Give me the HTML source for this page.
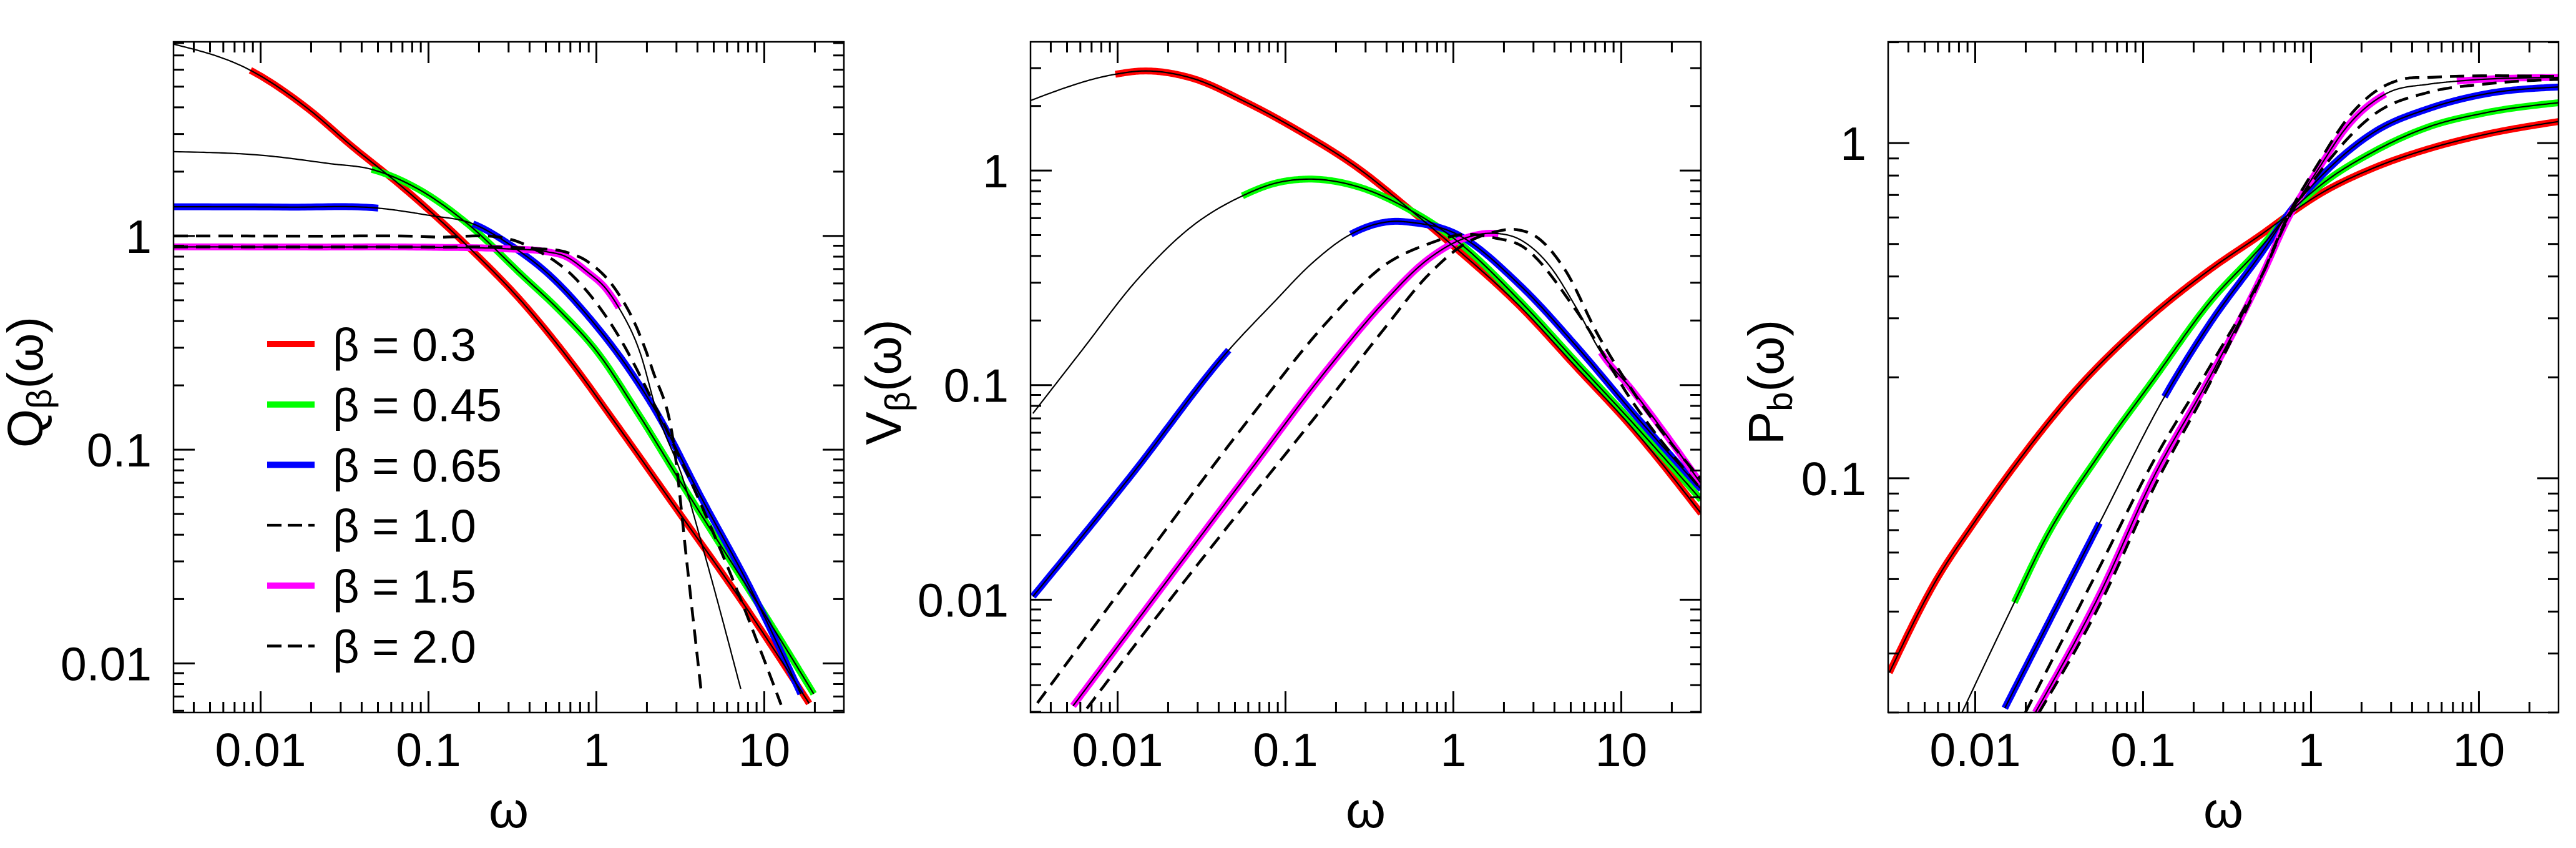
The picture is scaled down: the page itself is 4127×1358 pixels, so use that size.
<!DOCTYPE html>
<html><head><meta charset="utf-8"><style>
html,body{margin:0;padding:0;background:#fff;}
svg{display:block;}
text{font-family:"Liberation Sans",Arial,sans-serif;fill:#000;}
</style></head><body>
<svg id="fig" width="4127" height="1358" viewBox="0 0 4127 1358" xmlns="http://www.w3.org/2000/svg">
<rect width="4127" height="1358" fill="#fff"/>
</svg>
<script>
// ---------- data ----------
const xTickVals = [0.01,0.1,1,10];
const xTickLabels = ["0.01","0.1","1","10"];
const yTickVals1 = [0.01,0.1,1];
const yTickLabels1 = ["0.01","0.1","1"];
const yTickVals2 = [0.01,0.1,1];
const yTickLabels2 = ["0.01","0.1","1"];
const yTickVals3 = [0.1,1];
const yTickLabels3 = ["0.1","1"];
const legendLabels = ["β = 0.3","β = 0.45","β = 0.65","β = 1.0","β = 1.5","β = 2.0"];

// Panel 1: Q
const q_w03 = [0.00303,0.0087,0.019,0.035,0.069,0.17,0.362,0.7,1.33,3.27,6.89,18.5];
const q_v03 = [7.9,5.96,3.96,2.63,1.71,0.90,0.49,0.26,0.13,0.048,0.021,0.0065];
const q_w045 = [0.00303,0.0105,0.0259,0.0459,0.0866,0.171,0.362,0.6,1.0,1.80,3.27,6.89,10.8,19.7];
const q_v045 = [2.48,2.38,2.18,2.05,1.66,1.14,0.654,0.45,0.290,0.145,0.068,0.027,0.0155,0.0072];
const q_w065 = [0.00303,0.015,0.0502,0.1,0.184,0.312,0.528,0.873,1.64,2.22,4.40,8.02,16.5];
const q_v065 = [1.37,1.365,1.35,1.25,1.14,0.90,0.654,0.43,0.225,0.155,0.056,0.0235,0.0072];
const q_w10 = [0.00303,0.02,0.105,0.375,0.757,1.33,2.22,5.97,12.6];
const q_v10 = [1.0,0.998,0.99,0.912,0.628,0.349,0.162,0.029,0.0064];
const q_w15 = [0.00303,0.02,0.1,0.3,0.5,0.66,0.873,1.15,1.36,1.83,2.28,3.27,4.40,7.24];
const q_v15 = [0.889,0.888,0.886,0.87,0.845,0.80,0.684,0.562,0.462,0.281,0.152,0.0735,0.0327,0.0076];
const q_w20 = [0.00303,0.02,0.105,0.4,0.66,0.873,1.30,1.72,2.16,2.90,3.47,4.22];
const q_v20 = [0.889,0.888,0.887,0.875,0.84,0.765,0.562,0.38,0.236,0.104,0.029,0.00726];

// Panel 2: V
const v_w03 = [0.00303,0.0097,0.0139,0.0275,0.0584,0.124,0.264,0.561,0.995,2.54,5.40,11.5,29.9];
const v_v03 = [2.12,2.81,2.91,2.70,2.08,1.51,1.04,0.65,0.446,0.229,0.121,0.0638,0.0252];
const v_w045 = [0.00313,0.00608,0.0129,0.0275,0.0554,0.0851,0.134,0.264,0.561,0.995,2.54,5.40,11.5,29.9];
const v_v045 = [0.0738,0.144,0.306,0.547,0.762,0.869,0.912,0.845,0.65,0.486,0.243,0.128,0.0677,0.0292];
const v_w065 = [0.00313,0.012,0.0459,0.0851,0.144,0.245,0.448,0.561,0.995,2.54,5.40,11.5,29.9];
const v_v065 = [0.01035,0.0378,0.1455,0.243,0.37,0.505,0.58,0.573,0.515,0.288,0.152,0.0758,0.0327];
const v_w10 = [0.00333,0.0129,0.0584,0.181,0.385,0.703,1.19,1.74,2.54,5.40,11.5,29.9];
const v_v10 = [0.0033,0.0138,0.0669,0.201,0.360,0.454,0.505,0.486,0.446,0.222,0.085,0.0327];
const v_w15 = [0.00543,0.0129,0.0584,0.181,0.385,0.703,1.19,1.74,2.54,3.70,5.40,7.58,11.5,29.9];
const v_v15 = [0.0032,0.00788,0.0378,0.121,0.243,0.385,0.486,0.51,0.473,0.364,0.229,0.142,0.0957,0.0347];
const v_w20 = [0.00656,0.0129,0.0584,0.181,0.385,0.703,1.19,1.74,2.35,3.18,4.63,7.28,11.5,29.9];
const v_v20 = [0.00311,0.00625,0.0282,0.0853,0.182,0.324,0.459,0.516,0.531,0.486,0.344,0.171,0.0957,0.0363];

// Panel 3: P
const p_w03 = [0.00308,0.00573,0.01,0.0177,0.0377,0.1,0.248,0.528,0.714,1.12,2.39,5.08,10.8,29.9];
const p_v03 = [0.0263,0.0487,0.0745,0.111,0.178,0.29,0.418,0.542,0.605,0.703,0.845,0.963,1.06,1.16];
const p_w045 = [0.00834,0.0171,0.0259,0.055,0.117,0.248,0.528,0.714,1.12,2.39,5.08,10.8,29.9];
const p_v045 = [0.02,0.0426,0.0653,0.118,0.199,0.334,0.503,0.605,0.743,0.946,1.12,1.23,1.32];
const p_w065 = [0.015,0.055,0.134,0.248,0.528,0.714,1.12,2.39,5.08,10.8,29.9];
const p_v065 = [0.0206,0.0735,0.175,0.288,0.484,0.605,0.786,1.08,1.27,1.40,1.47];
const p_w10 = [0.0199,0.055,0.117,0.248,0.528,0.714,1.12,2.39,5.08,10.8,29.9];
const p_v10 = [0.02,0.0543,0.114,0.214,0.418,0.583,0.815,1.22,1.42,1.50,1.55];
const p_w15 = [0.0228,0.055,0.117,0.248,0.528,0.714,1.12,1.64,2.77,5.08,7.39,29.9];
const p_v15 = [0.02,0.045,0.102,0.199,0.418,0.583,0.845,1.12,1.40,1.50,1.53,1.57];
const p_w20 = [0.024,0.055,0.117,0.248,0.528,0.714,1.12,1.64,2.39,3.48,5.08,29.9];
const p_v20 = [0.02,0.0418,0.0946,0.191,0.418,0.594,0.879,1.18,1.42,1.55,1.57,1.58];

// colored (thick) ranges in omega
const q_rng = {r:[[0.0087,18.5]], g:[[0.0459,19.7]], b:[[0.00303,0.0502],[0.184,16.5]], m:[[0.00303,1.36]]};
const v_rng = {r:[[0.0097,29.9]], g:[[0.0554,29.9]], b:[[0.00313,0.0459],[0.245,29.9]], m:[[0.00543,1.87],[7.58,29.9]]};
const p_rng = {r:[[0.00308,29.9]], g:[[0.0171,29.9]], b:[[0.015,0.055],[0.134,29.9]], m:[[0.0228,2.77],[7.39,29.9]]};

// ---------- drawing ----------
const NS = "http://www.w3.org/2000/svg";
const svg = document.getElementById('fig');
function mk(tag, attrs, parent){ const e=document.createElementNS(NS,tag); for(const k in attrs) e.setAttribute(k,attrs[k]); (parent||svg).appendChild(e); return e; }

const panels = [
 {id:'q', x0:278, x1:1352, y0:67, y1:1141, ymin:0.00589, ymax:8.1, yt:yTickVals1, yl:yTickLabels1, title:['Q','β'], tx:68},
 {id:'v', x0:1651, x1:2725, y0:67, y1:1141, ymin:0.00298, ymax:3.98, yt:yTickVals2, yl:yTickLabels2, title:['V','β'], tx:1443},
 {id:'p', x0:3025, x1:4099, y0:67, y1:1141, ymin:0.02, ymax:2.005, yt:yTickVals3, yl:yTickLabels3, title:['P','b'], tx:2857}
];
const XMIN=0.00303, XMAX=29.8;

function smooth(xs, ys, n){
  const N=xs.length, h=[], d=[], m=new Array(N);
  for(let i=0;i<N-1;i++){ h.push(xs[i+1]-xs[i]); d.push((ys[i+1]-ys[i])/h[i]); }
  if(N===2){ m[0]=m[1]=d[0]; }
  else{
    for(let i=1;i<N-1;i++) m[i]=(d[i-1]*h[i]+d[i]*h[i-1])/(h[i-1]+h[i]);
    m[0]=2*d[0]-m[1]; m[N-1]=2*d[N-2]-m[N-2];
    m[0]=0.5*(m[0]+d[0]); m[N-1]=0.5*(m[N-1]+d[N-2]);
  }
  const out=[];
  for(let i=0;i<N-1;i++){
    for(let j=0;j<n;j++){
      const t=j/n, t2=t*t, t3=t2*t;
      const h00=2*t3-3*t2+1, h10=t3-2*t2+t, h01=-2*t3+3*t2, h11=t3-t2;
      out.push([xs[i]+t*h[i], h00*ys[i]+h10*h[i]*m[i]+h01*ys[i+1]+h11*h[i]*m[i+1]]);
    }
  }
  out.push([xs[N-1], ys[N-1]]);
  return out;
}

panels.forEach((P,pi)=>{
  const g = mk('g',{});
  
  
  const lxmin=Math.log10(XMIN), lxmax=Math.log10(XMAX), lymin=Math.log10(P.ymin), lymax=Math.log10(P.ymax);
  const sx = v=>P.x0+(Math.log10(v)-lxmin)/(lxmax-lxmin)*(P.x1-P.x0);
  const sy = v=>P.y1-(Math.log10(v)-lymin)/(lymax-lymin)*(P.y1-P.y0);
  const cid='clip'+P.id;
  const cp=mk('clipPath',{id:cid},g); mk('rect',{x:P.x0,y:P.y0,width:P.x1-P.x0,height:P.y1-P.y0},cp);
  const plot=mk('g',{'clip-path':'url(#'+cid+')'},g);

  const pre = P.id;
  const series = [
    {k:'03', col:'#ff0000', c:'r'},
    {k:'045', col:'#00ff00', c:'g'},
    {k:'065', col:'#0000ff', c:'b'},
    {k:'15', col:'#ff00ff', c:'m'},
  ];
  const getArr = (k)=>({w:eval(pre+'_w'+k), v:eval(pre+'_v'+k)});
  const rng = eval(pre+'_rng');
  function dense(k){ const a=getArr(k); return smooth(a.w.map(Math.log10), a.v.map(Math.log10), 30); }
  function pathFrom(pts){ return pts.map((p,i)=>(i?'L':'M')+(P.x0+(p[0]-lxmin)/(lxmax-lxmin)*(P.x1-P.x0)).toFixed(1)+','+(P.y1-(p[1]-lymin)/(lymax-lymin)*(P.y1-P.y0)).toFixed(1)).join(''); }
  series.forEach(s=>{
    const pts=dense(s.k);
    rng[s.c].forEach((r,ri)=>{
      const a=Math.log10(r[0])-1e-6, b=Math.log10(r[1])+1e-6;
      const seg=pts.filter(p=>p[0]>=a&&p[0]<=b);
      if(seg.length<2) return;
      const e=mk('path',{d:pathFrom(seg),fill:'none',stroke:s.col,'stroke-width':11,'stroke-linecap':'butt','stroke-linejoin':'round'},plot);
      
      
    });
  });
  ['03','045','065','15'].forEach(k=>{
    const e=mk('path',{d:pathFrom(dense(k)),fill:'none',stroke:'#000','stroke-width':2.2,'stroke-linejoin':'round'},plot);
    
    
  });
  ['10','20'].forEach(k=>{
    const e=mk('path',{d:pathFrom(dense(k)),fill:'none',stroke:'#000','stroke-width':4.5,'stroke-dasharray':'23 13'},plot);
    
    
  });

  const fr=mk('rect',{x:P.x0,y:P.y0,width:P.x1-P.x0,height:P.y1-P.y0,fill:'none',stroke:'#000','stroke-width':2.5},g);
  
  
  let td='';
  for(let d=-3; d<=2; d++){
    for(let m=1;m<=9;m++){
      const v=m*Math.pow(10,d);
      if(v>=XMIN && v<=XMAX){ const x=sx(v), L=(m===1)?34:17; td+=`M${x},${P.y1}v${-L}M${x},${P.y0}v${L}`; }
      if(v>=P.ymin && v<=P.ymax){ const y=sy(v), L=(m===1)?34:17; td+=`M${P.x0},${y}h${L}M${P.x1},${y}h${-L}`; }
    }
  }
  const tk=mk('path',{d:td,stroke:'#000','stroke-width':3,fill:'none'},g);
  
  
  xTickVals.forEach((v,i)=>{
    const t=mk('text',{x:sx(v),y:1227,'font-size':75,'text-anchor':'middle'},g); t.textContent=xTickLabels[i];
    
    
  });
  P.yt.forEach((v,i)=>{
    const t=mk('text',{x:P.x0-35,y:sy(v)+27,'font-size':75,'text-anchor':'end'},g); t.textContent=P.yl[i];
    
    
  });
  const xt=mk('text',{x:(P.x0+P.x1)/2,y:1325,'font-size':82,'text-anchor':'middle'},g); xt.textContent='ω';
  
  
  const yt=mk('text',{x:0,y:0,'font-size':80,'text-anchor':'middle',transform:`translate(${P.tx},612) rotate(-90)`},g);
  
  
  const t1=mk('tspan',{},yt); t1.textContent=P.title[0];
  const t2=mk('tspan',{'font-size':56,dy:14},yt); t2.textContent=P.title[1];
  const t3=mk('tspan',{dy:-14},yt); t3.textContent='(ω)';
});

const lg=mk('g',{});


const legCols=['#ff0000','#00ff00','#0000ff',null,'#ff00ff',null];
legendLabels.forEach((lab,i)=>{
  const y=551+96.7*i;
  let ln;
  if(legCols[i]) ln=mk('line',{x1:428,x2:504,y1:y,y2:y,stroke:legCols[i],'stroke-width':10},lg);
  else ln=mk('line',{x1:428,x2:504,y1:y,y2:y,stroke:'#000','stroke-width':4.5,'stroke-dasharray':'23 10'},lg);
  
  
  const t=mk('text',{x:533,y:y+27,'font-size':74},lg); t.textContent=lab;
  
  
});
</script>
</body></html>
